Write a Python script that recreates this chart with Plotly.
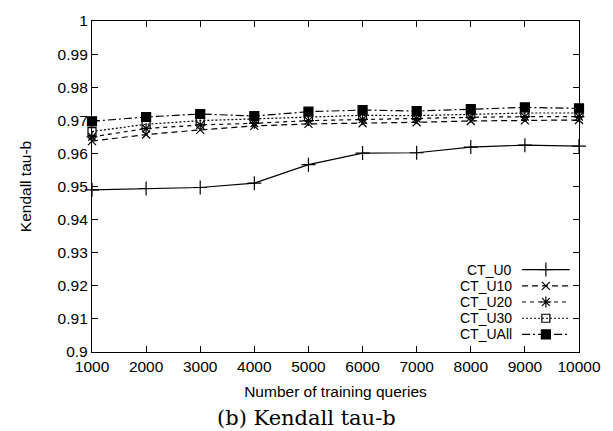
import plotly.graph_objects as go

queries = [1000, 2000, 3000, 4000, 5000, 6000, 7000, 8000, 9000, 10000]
ct_u0 = [0.9490, 0.9494, 0.9497, 0.9510, 0.9566, 0.9601, 0.9602, 0.9619, 0.9625, 0.9622]
ct_u10 = [0.9637, 0.9657, 0.9671, 0.9683, 0.9689, 0.9691, 0.9694, 0.9698, 0.9700, 0.9701]
ct_u20 = [0.9650, 0.9675, 0.9686, 0.9691, 0.9699, 0.9703, 0.9705, 0.9709, 0.9711, 0.9711]
ct_u30 = [0.9666, 0.9688, 0.9699, 0.9705, 0.9710, 0.9715, 0.9714, 0.9719, 0.9722, 0.9722]
ct_uall = [0.9697, 0.9710, 0.9719, 0.9713, 0.9726, 0.9731, 0.9728, 0.9734, 0.9739, 0.9736]

series_names = ["CT_U0", "CT_U10", "CT_U20", "CT_U30", "CT_UAll"]
series_vals = [ct_u0, ct_u10, ct_u20, ct_u30, ct_uall]
dashes = ["solid", "6px,4px", "4px,4px", "2px,2px", "8px,3px,2px,3px"]
symbols = ["cross-thin", "x-thin", "asterisk", "square-open", "square"]
msizes = [10, 8, 9, 8, 9]

x_ticks = [1000, 2000, 3000, 4000, 5000, 6000, 7000, 8000, 9000, 10000]
x_ticktext = ["1000", "2000", "3000", "4000", "5000", "6000", "7000", "8000", "9000", "10000"]
y_ticks = [0.9, 0.91, 0.92, 0.93, 0.94, 0.95, 0.96, 0.97, 0.98, 0.99, 1.0]
y_ticktext = ["0.9", "0.91", "0.92", "0.93", "0.94", "0.95", "0.96", "0.97", "0.98", "0.99", "1"]

FONT = "Liberation Sans, Arial, sans-serif"
FS = 15.5

fig = go.Figure()
for name, vals, dash, sym, ms in zip(series_names, series_vals, dashes, symbols, msizes):
    fig.add_trace(go.Scatter(
        x=queries, y=vals, mode="lines+markers", name=name, showlegend=False,
        line=dict(color="black", width=1.2, dash=dash),
        marker=dict(symbol=sym, size=ms, color="black", line=dict(color="black", width=1.2)),
        cliponaxis=False,
    ))

# custom gnuplot-style legend (text left, sample right)
leg_y = [0.249, 0.200, 0.151, 0.102, 0.053]
for name, dash, sym, ms, ly in zip(series_names, dashes, symbols, msizes, leg_y):
    fig.add_trace(go.Scatter(
        x=[0.883, 0.981], y=[ly, ly], mode="lines", xaxis="x2", yaxis="y2", showlegend=False,
        line=dict(color="black", width=1.2, dash=dash), hoverinfo="skip"))
    fig.add_trace(go.Scatter(
        x=[0.932], y=[ly], mode="markers", xaxis="x2", yaxis="y2", showlegend=False,
        marker=dict(symbol=sym, size=ms, color="black", line=dict(color="black", width=1.2)),
        hoverinfo="skip"))
    fig.add_annotation(x=0.864, y=ly, xref="x2", yref="y2", text=name, showarrow=False,
                       xanchor="right", yanchor="middle", borderpad=0,
                       font=dict(family=FONT, size=14, color="black"))

axis_common = dict(showline=True, linecolor="black", linewidth=1.3, mirror="ticks",
                   ticks="inside", ticklen=6, tickwidth=1.1, tickcolor="black",
                   showgrid=False, zeroline=False,
                   tickfont=dict(family=FONT, size=FS, color="black"))

fig.update_layout(
    width=613, height=431,
    margin=dict(l=92, r=34, t=15, b=79),
    paper_bgcolor="white", plot_bgcolor="white",
    xaxis=dict(range=[1000, 10000], tickvals=x_ticks, ticktext=x_ticktext,
               title=dict(text="Number of training queries", standoff=12,
                          font=dict(family=FONT, size=FS, color="black")),
               **axis_common),
    yaxis=dict(range=[0.9, 1.0], tickvals=y_ticks, ticktext=y_ticktext,
               title=dict(text="Kendall tau-b", standoff=22,
                          font=dict(family=FONT, size=FS, color="black")),
               **axis_common),
    xaxis2=dict(overlaying="x", range=[0, 1], visible=False),
    yaxis2=dict(overlaying="y", range=[0, 1], visible=False),
)

fig.add_annotation(x=0.44, y=-0.199, xref="paper", yref="paper", yanchor="middle",
                   text="(b) Kendall tau-b", showarrow=False,
                   font=dict(family="DejaVu Serif, serif", size=21, color="black"))

fig.write_html("out.html")
